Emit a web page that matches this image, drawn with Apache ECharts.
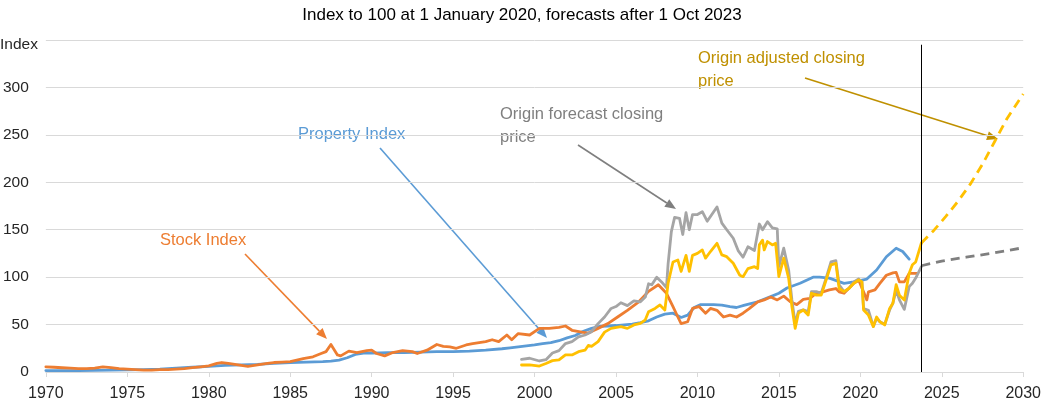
<!DOCTYPE html>
<html>
<head>
<meta charset="utf-8">
<script src="https://cdn.jsdelivr.net/npm/echarts@6/dist/echarts.min.js"></script>
<style>
html,body{margin:0;padding:0;background:#fff;}
#chart{width:1044px;height:410px;}
</style>
</head>
<body>
<div id="chart"></div>
<script>
// ---- DATA ----
const titleText = 'Index to 100 at 1 January 2020, forecasts after 1 Oct 2023';
const xTicks = [1970, 1975, 1980, 1985, 1990, 1995, 2000, 2005, 2010, 2015, 2020, 2025, 2030];
const yTicks = [0, 50, 100, 150, 200, 250, 300];
const forecastStart = 2023.75;

const stockYears = [1970,1970.5,1971,1971.5,1972,1972.5,1973,1973.5,1974,1974.5,1975,1975.5,1976,1976.5,1977,1977.5,1978,1978.5,1979,1979.5,1980,1980.5,1980.8,1981.2,1981.6,1982,1982.4,1982.8,1983.2,1983.6,1984,1984.5,1985,1985.4,1985.8,1986.4,1986.9,1987.2,1987.5,1987.9,1988.1,1988.6,1989.1,1989.7,1990,1990.3,1990.8,1991.3,1991.9,1992.5,1992.8,1993.4,1994,1994.4,1994.8,1995.2,1995.8,1996.2,1997,1997.4,1997.8,1998.3,1998.6,1999,1999.7,2000.3,2000.9,2001.5,2001.9,2002.3,2002.9,2003.3,2003.9,2004.5,2005.1,2005.7,2006.4,2007,2007.6,2008.1,2008.5,2008.8,2009,2009.4,2009.7,2010.1,2010.5,2010.8,2011.2,2011.6,2012,2012.4,2012.8,2013.2,2013.7,2014.1,2014.5,2014.9,2015.3,2015.7,2016.1,2016.5,2016.9,2017.3,2017.7,2018.1,2018.5,2018.7,2019,2019.6,2019.9,2020.2,2020.4,2020.5,2020.9,2021.2,2021.6,2022,2022.2,2022.4,2022.7,2023,2023.5];
const stockValues = [5.5,5,4.5,4,3.5,3.5,4,5.5,4.5,3.5,3,2.5,2,2,2.5,2.5,3,3.5,4.5,5.5,6.5,9,10,9,8,7,6,7,8,9,10,10.5,11,12.5,14,16,19.5,21.5,29,18,17,22,20.5,22.5,23,19.5,17,20.5,22.5,21.5,19.5,23,29,27,26.5,25,28.5,30,32,34,32,39,34,40.5,39,46,46,47,48.5,44,42,41,46,51,58,65,74,85,92,83,69,58,51,53,67,69,62,67,65,58,60,58,62,67,74,76,79,76,80,74,71,76.5,77.5,83,84.5,86.5,88,84.5,83,93.5,97,84.5,76,84.5,86.5,93.5,102,104.5,105,95,95,104,104];

const propYears = [1970,1972,1974,1975,1976,1977,1978,1979,1980,1981,1982,1983,1984,1985,1986,1987,1987.5,1988,1988.5,1989,1989.5,1990,1991,1992,1993,1994,1995,1996,1997,1998,1998.5,1999,2000,2000.5,2001,2001.5,2002,2002.5,2003,2003.5,2004,2004.5,2005,2006,2006.5,2007,2007.5,2008,2008.5,2009,2009.4,2009.8,2010.2,2011,2011.5,2012,2012.4,2012.9,2013.7,2014.5,2015,2015.5,2016.3,2017.1,2017.5,2018.1,2019,2019.6,2020.4,2021,2021.6,2022.2,2022.6,2023];
const propValues = [1.5,1.5,2,2.2,2.5,3,4,5,6,7,7.5,8,9,10,10.5,11,11.5,12.5,15,18.5,20,20,20.5,20.5,21,21.5,21.5,22,23,24.5,25.5,26.5,28.5,30,31,33,36,38.5,43,46,48,48.5,49,50.5,52,54,58,61,62,57.5,60,68,71,71,70.5,69,68,70.5,74,79.5,83,88.5,93.5,100,100,99,93.5,95,98,107.5,121.5,130.5,127,119];

const originFcYears = [1999.2,1999.7,2000.3,2000.7,2001.1,2001.5,2001.9,2002.3,2002.7,2003.1,2003.5,2003.9,2004.3,2004.7,2005,2005.3,2005.7,2006.1,2006.5,2006.8,2007,2007.2,2007.5,2007.8,2008.1,2008.2,2008.4,2008.6,2008.9,2009.1,2009.3,2009.5,2009.7,2010,2010.3,2010.6,2010.8,2011.2,2011.5,2011.8,2012.2,2012.5,2012.8,2013.1,2013.5,2013.8,2014,2014.3,2014.6,2014.9,2015,2015.3,2015.6,2015.8,2016,2016.2,2016.5,2016.8,2017,2017.3,2017.6,2017.9,2018.2,2018.5,2018.7,2019,2019.3,2019.6,2019.9,2020.1,2020.2,2020.5,2020.8,2021,2021.2,2021.5,2021.8,2022,2022.2,2022.4,2022.7,2023,2023.2,2023.4,2023.75];
const originFcValues = [13.4,14.5,11.6,13,20,22.5,30,32,37,39,42.5,51,58,67,69,73,70,75,74,79,93,92,100,95,89,114,148,163,162,145,168,150,166,166,169,159,164,174,157,150,141,128,121,132,128,156,150,158.5,152,151,111,130.5,107.6,76,51,64,65.5,63.6,84.7,84.7,83,99,116,117.4,92,84.7,88,95,98,95,67,65,48,56.6,53,50.3,65.4,72.5,86.5,76,66,90,93.5,99,111];
const originFcProjYears = [2023.75,2025,2026.5,2028,2029,2030];
const originFcProjValues = [112,117,121,125,128,131];

const originAdjYears = [1999.2,1999.7,2000.3,2000.7,2001.1,2001.5,2001.9,2002.3,2002.7,2003.1,2003.3,2003.5,2003.9,2004.3,2004.7,2005.3,2005.7,2006.1,2006.5,2006.8,2007,2007.4,2007.7,2008,2008.2,2008.5,2008.8,2009,2009.3,2009.5,2009.7,2010,2010.3,2010.5,2010.8,2011.2,2011.5,2011.8,2012.2,2012.6,2012.8,2013.1,2013.5,2013.7,2013.8,2014,2014.1,2014.3,2014.6,2014.8,2015,2015.3,2015.6,2015.8,2016,2016.2,2016.5,2016.8,2017,2017.3,2017.6,2017.9,2018.2,2018.5,2018.7,2019,2019.3,2019.6,2019.9,2020.1,2020.2,2020.5,2020.8,2021,2021.2,2021.5,2021.8,2022,2022.2,2022.4,2022.7,2023,2023.2,2023.4,2023.75];
const originAdjValues = [7.4,7.4,6.3,9,12,12.7,18,18,21.4,23,28,27,32,42,46,47.8,46,49.6,51.3,55,63.6,67,70.7,65.4,93.5,116,118,106,123,106,123,125,128.7,120,127,135.7,123.4,121.6,114.6,102,100.5,109,111,109,134,139,128.7,137.5,134,135.7,100.5,120,99,69,46,62,65.4,60,83,81,81,97,113,114.6,88,84.7,88,93.5,97,95,65.4,60,47.8,58,53,49.6,67,72.5,92,81,76,104,113,116,136];
const originAdjProjYears = [2023.75,2024.5,2025.25,2026,2026.75,2027.5,2028.25,2029,2030];
const originAdjProjValues = [136,149,164,180,198,219,243,267,293];

// ---- BUILD ----
const zip = (xs, ys) => xs.map((x, i) => [x, ys[i]]);
const FONT = '"Liberation Sans", Arial, sans-serif';
const C_BLUE = '#5B9BD5', C_ORANGE = '#ED7D31', C_GRAY = '#A5A5A5', C_YELLOW = '#FFC000';
const LW = 2.8;

function arrow(x1, y1, x2, y2, color) {
  const ang = Math.atan2(y2 - y1, x2 - x1);
  const L = 11, W = 4.5;
  const bx = x2 - L * Math.cos(ang), by = y2 - L * Math.sin(ang);
  const px = -Math.sin(ang) * W, py = Math.cos(ang) * W;
  return [
    { type: 'line', silent: true, shape: { x1, y1, x2: bx, y2: by }, style: { stroke: color, lineWidth: 1.6 } },
    { type: 'polygon', silent: true, shape: { points: [[x2, y2], [bx + px, by + py], [bx - px, by - py]] }, style: { fill: color } }
  ];
}
function label(text, x, y, color) {
  return { type: 'text', silent: true, style: { text, x, y, fill: color, font: '16.5px ' + FONT, verticalAlign: 'middle', align: 'left' } };
}

const chart = echarts.init(document.getElementById('chart'), null, { renderer: 'canvas' });
const lineSeries = (name, data, color, extra) => Object.assign({
  name, type: 'line', data, symbol: 'none', showSymbol: false, smooth: false,
  lineStyle: { color, width: LW, cap: 'round', join: 'round' }, itemStyle: { color }, animation: false
}, extra || {});

chart.setOption({
  animation: false,
  backgroundColor: '#fff',
  title: {
    text: titleText, left: 'center', top: 2,
    textStyle: { fontFamily: FONT, fontSize: 17, fontWeight: 'normal', color: '#000' }
  },
  grid: { left: 43, right: 16, top: 40, bottom: 38, containLabel: false },
  xAxis: {
    type: 'value', min: xTicks[0], max: xTicks[xTicks.length - 1], interval: 5,
    axisLine: { show: true, lineStyle: { color: '#D9D9D9', width: 1 } },
    axisTick: { show: true, length: 5, lineStyle: { color: '#D9D9D9' } },
    splitLine: { show: false },
    axisLabel: { margin: 14, fontFamily: FONT, fontSize: 16, color: '#262626', formatter: v => String(v) }
  },
  yAxis: {
    type: 'value', min: 0, max: 350, interval: 50,
    axisLine: { show: false }, axisTick: { show: false },
    splitLine: { show: true, lineStyle: { color: '#D9D9D9', width: 1 } },
    axisLabel: { margin: 17, fontFamily: FONT, fontSize: 15.5, color: '#262626',
      formatter: v => (yTicks.indexOf(v) >= 0 ? String(v) : '') }
  },
  graphic: [
    { type: 'text', silent: true, style: { text: 'Index', x: 0, y: 45, fill: '#262626', font: '15.5px ' + FONT, verticalAlign: 'middle' } },
    label('Stock Index', 160, 240, C_ORANGE),
    label('Property Index', 298, 134, C_BLUE),
    label('Origin forecast closing', 500, 114, '#7F7F7F'),
    label('price', 500, 137, '#7F7F7F'),
    label('Origin adjusted closing', 698, 58, '#BF9000'),
    label('price', 698, 81, '#BF9000'),
    ...arrow(245, 254, 327, 339, C_ORANGE),
    ...arrow(380, 148, 547, 338, C_BLUE),
    ...arrow(578, 145, 676, 209, '#7F7F7F'),
    ...arrow(805, 78, 998, 139, '#BF9000')
  ],
  series: [
    lineSeries('Property Index', zip(propYears, propValues), C_BLUE),
    lineSeries('Stock Index', zip(stockYears, stockValues), C_ORANGE),
    lineSeries('Origin forecast closing price', zip(originFcYears, originFcValues), C_GRAY),
    lineSeries('Origin forecast projection', zip(originFcProjYears, originFcProjValues), '#7F7F7F',
      { lineStyle: { color: '#7F7F7F', width: LW, type: [9, 6] } }),
    lineSeries('Origin adjusted projection', zip(originAdjProjYears, originAdjProjValues), C_YELLOW,
      { lineStyle: { color: C_YELLOW, width: LW, type: [9, 6] } }),
    lineSeries('Origin adjusted closing price', zip(originAdjYears, originAdjValues), C_YELLOW, {
      markLine: {
        silent: true, symbol: ['none', 'none'], animation: false,
        label: { show: false },
        lineStyle: { color: '#000', width: 1, type: 'solid' },
        data: [[{ coord: [forecastStart, 0] }, { coord: [forecastStart, 345] }]]
      }
    })
  ]
});
</script>
</body>
</html>
